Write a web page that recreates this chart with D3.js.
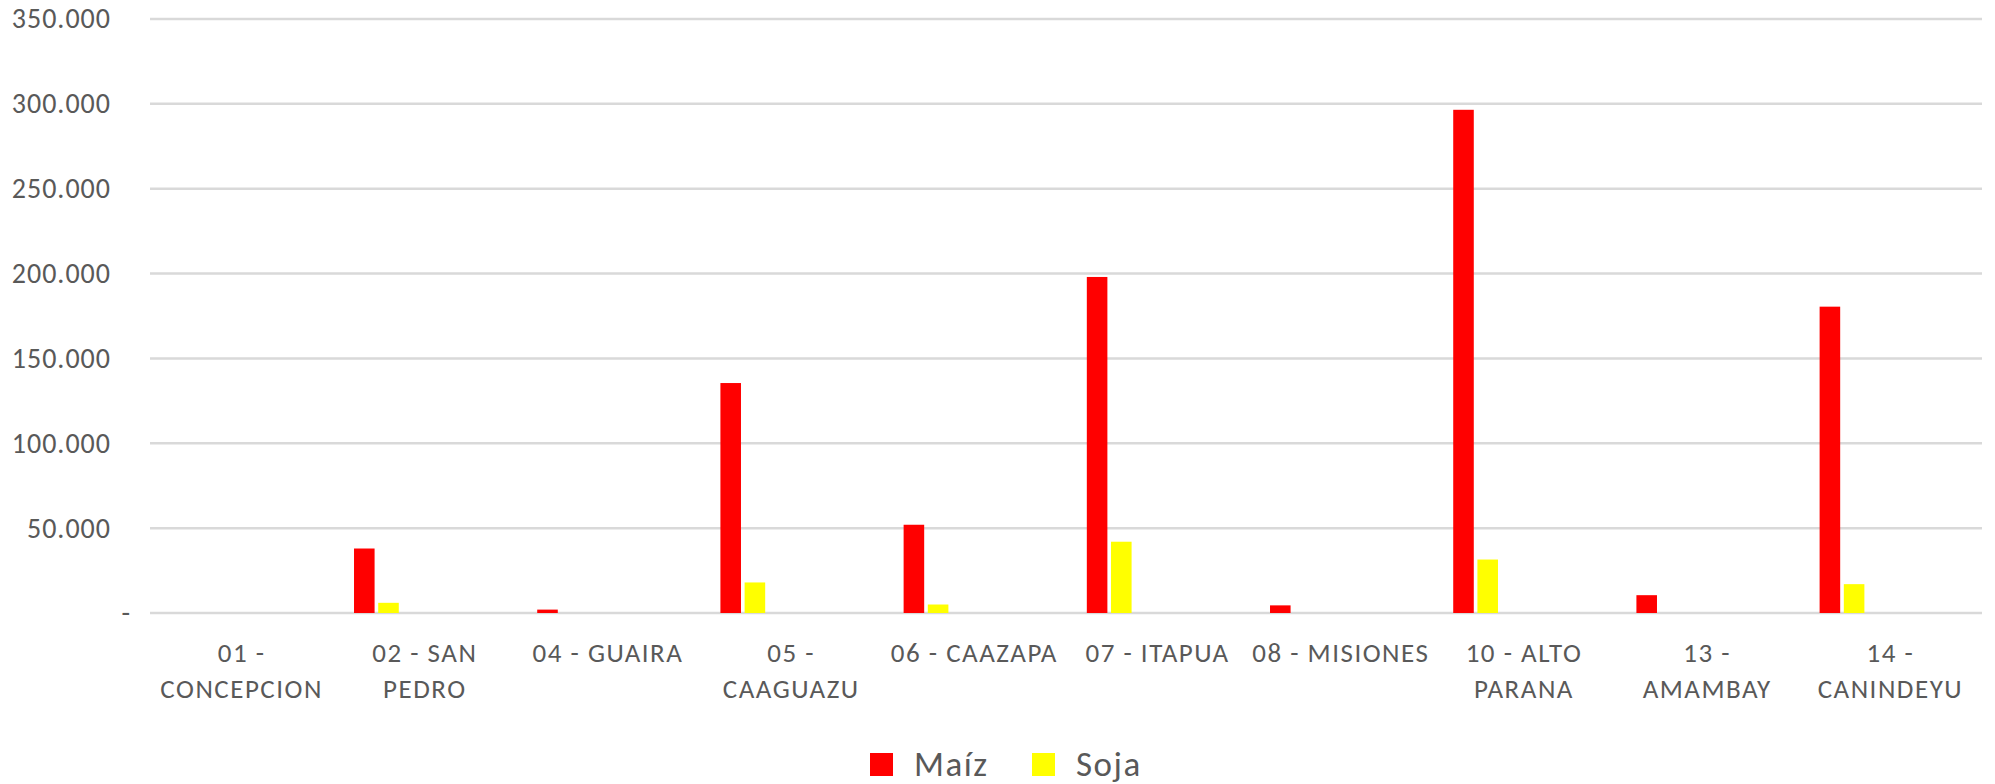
<!DOCTYPE html>
<html>
<head>
<meta charset="utf-8">
<script src="https://cdn.jsdelivr.net/npm/d3@7"></script>
<style>
  body { margin: 0; background: #ffffff; }
  text { font-family: Carlito, Lato, sans-serif; fill: #595959; }
</style>
</head>
<body>
<svg id="chart" width="1995" height="784"></svg>
<script>

// departamentos and their wrapped tick labels
var departamentos = ["01 - CONCEPCION", "02 - SAN PEDRO", "04 - GUAIRA", "05 - CAAGUAZU", "06 - CAAZAPA",
  "07 - ITAPUA", "08 - MISIONES", "10 - ALTO PARANA", "13 - AMAMBAY", "14 - CANINDEYU"];
var etiquetas = [["01 -", "CONCEPCION"], ["02 - SAN", "PEDRO"], ["04 - GUAIRA"], ["05 -", "CAAGUAZU"],
  ["06 - CAAZAPA"], ["07 - ITAPUA"], ["08 - MISIONES"], ["10 - ALTO", "PARANA"], ["13 -", "AMAMBAY"], ["14 -", "CANINDEYU"]];

var series = ["Maíz", "Soja"];
var colores = ["#ff0000", "#ffff00"];

var maiz = [0, 38000, 2000, 135500, 52000, 198000, 4500, 296500, 10500, 180500];
var soja = [0, 6000, 0, 18000, 5000, 42000, 0, 31500, 0, 17000];

var yTicks = [0, 50000, 100000, 150000, 200000, 250000, 300000, 350000];

var svg = d3.select("#chart");
var width = 1995, height = 784;
var margin = { top: 19, right: 13, bottom: 171, left: 150 };

var x0 = d3.scaleBand()
  .domain(departamentos)
  .range([margin.left, width - margin.right])
  .padding(0);

// excel leaves room for 6 bars per cluster, only the first two are used
var x1 = d3.scaleBand()
  .domain(d3.range(6))
  .range([19, x0.bandwidth() - 19])
  .paddingInner(0.15)
  .paddingOuter(0.075);

var y = d3.scaleLinear()
  .domain([0, 350000])
  .range([height - margin.bottom, margin.top]);

var loc = d3.formatLocale({ decimal: ",", thousands: ".", grouping: [3], currency: ["", ""] });
var fmt = loc.format(",.0f");

// gridlines
svg.append("g")
  .selectAll("line")
  .data(yTicks)
  .join("line")
  .attr("x1", margin.left)
  .attr("x2", width - margin.right)
  .attr("y1", d => y(d))
  .attr("y2", d => y(d))
  .attr("stroke", "#d9d9d9")
  .attr("stroke-width", 2.5);

// y axis
var yAxis = svg.append("g")
  .attr("transform", "translate(" + margin.left + ",0)")
  .call(d3.axisLeft(y).tickValues(yTicks).tickSize(0).tickPadding(39)
    .tickFormat(d => d === 0 ? "-" : fmt(d)));
yAxis.select(".domain").remove();
yAxis.selectAll("text")
  .attr("font-size", 28)
  .attr("letter-spacing", 1)
  .attr("fill", "#595959")
  .attr("font-family", null)
  .attr("dx", d => d === 0 ? 20 : 0);

// bars
var rows = departamentos.map((d, i) => ({ dep: d, vals: [maiz[i], soja[i]] }));

var grupos = svg.append("g")
  .selectAll("g")
  .data(rows)
  .join("g")
  .attr("transform", d => "translate(" + x0(d.dep) + ",0)");

grupos.selectAll("rect")
  .data(d => d.vals.map((v, k) => ({ k: k, v: v })))
  .join("rect")
  .attr("x", d => x1(d.k))
  .attr("width", x1.bandwidth())
  .attr("y", d => y(d.v))
  .attr("height", d => y(0) - y(d.v))
  .attr("fill", d => colores[d.k]);

// x labels
var xl = svg.append("g")
  .selectAll("text")
  .data(departamentos)
  .join("text")
  .attr("x", d => x0(d) + x0.bandwidth() / 2)
  .attr("y", 662)
  .attr("text-anchor", "middle")
  .attr("letter-spacing", 1.5)
  .attr("font-size", 27);

xl.each(function (d, i) {
  var t = d3.select(this);
  etiquetas[i].forEach((line, j) => {
    t.append("tspan")
      .attr("x", x0(d) + x0.bandwidth() / 2)
      .attr("dy", j === 0 ? 0 : 36)
      .text(line);
  });
});

// legend
var legend = svg.append("g")
  .attr("transform", "translate(870,753)");

var item = legend.selectAll("g")
  .data(series)
  .join("g")
  .attr("transform", (d, i) => "translate(" + (i * 162) + ",0)");

item.append("rect")
  .attr("width", 23)
  .attr("height", 23)
  .attr("fill", (d, i) => colores[i]);

item.append("text")
  .attr("x", 44)
  .attr("y", 23)
  .attr("font-size", 35)
  .attr("letter-spacing", 1.5)
  .text(d => d);

</script>
</body>
</html>
